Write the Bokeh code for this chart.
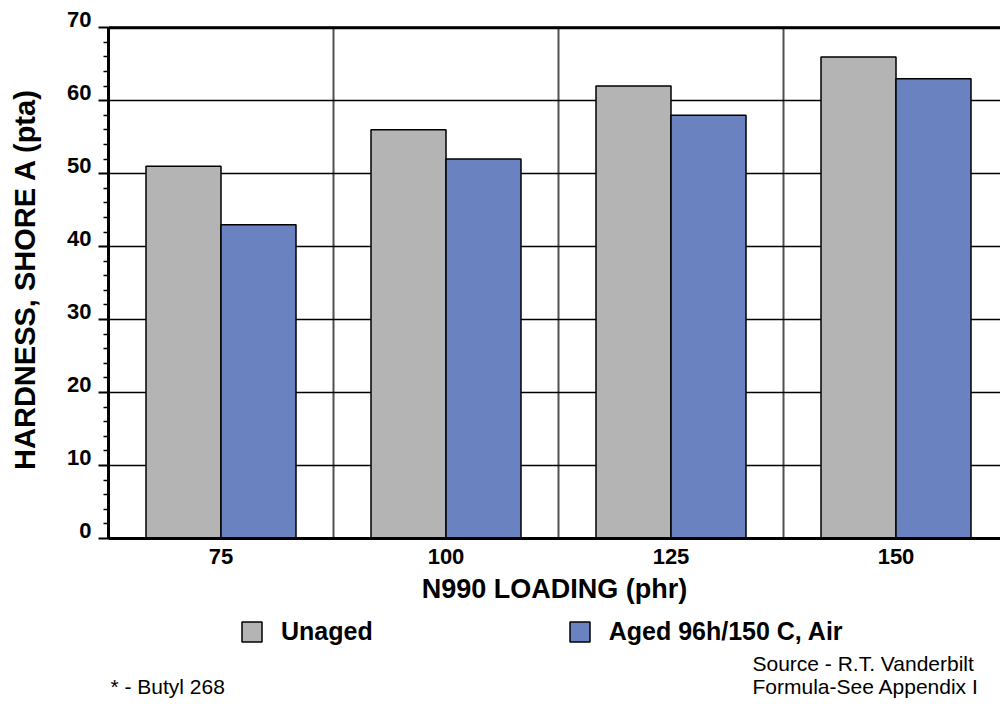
from bokeh.plotting import figure
from bokeh.layouts import column
from bokeh.models import (Range1d, FixedTicker, ColumnDataSource, LinearAxis, Legend,
                          LegendItem, Span)
from bokeh.embed import file_html
from bokeh.resources import INLINE
from bokeh.core.properties import value

# ---- data ----
categories = ["75", "100", "125", "150"]
unaged = [51, 56, 62, 66]
aged = [43, 52, 58, 63]
series_names = ["Unaged", "Aged 96h/150 C, Air"]
y_ticks = [0, 10, 20, 30, 40, 50, 60, 70]
y_tick_labels = ["0", "10", "20", "30", "40", "50", "60", "70"]
x_title = "N990 LOADING (phr)"
y_title = "HARDNESS, SHORE A (pta)"
note_left = "* - Butyl 268"
note_right = ["Source - R.T. Vanderbilt", "Formula-See Appendix I"]

GRAY = "#b4b4b4"
BLUE = "#6a82bf"
FONT = "Liberation Sans"

# ---- geometry (pixels) ----
TOTAL_W = 1000
LEFT = 108
Y_MAX = 70
LABEL_SHIFT = 1.125          # y tick labels sit just above their ticks (data units)
Y_TOP = Y_MAX + LABEL_SHIFT  # visible range reaches the top label
SCALE = 7.3                  # px per hardness unit
FRAME_H = round(Y_TOP * SCALE)
FRAME_BOTTOM = 538
TOP = FRAME_BOTTOM - FRAME_H
MAIN_H = 612
FOOT_H = 88
CAT_PX = 225.0

frame_w = TOTAL_W - LEFT
idx = list(range(len(categories)))
x_unaged = [i + 1.0 / 3 for i in idx]
x_aged = [i + 2.0 / 3 for i in idx]
centers = [i + 0.5 for i in idx]

xr = Range1d(0, frame_w / CAT_PX)
p = figure(width=TOTAL_W, height=MAIN_H, output_backend="svg", toolbar_location=None,
           x_range=xr, y_range=Range1d(0, Y_TOP),
           min_border_left=LEFT, min_border_right=0, min_border_top=TOP,
           min_border_bottom=MAIN_H - TOP - FRAME_H)
p.outline_line_color = None
p.background_fill_color = "white"
p.border_fill_color = "white"

# grids (vertical lines limited to the 0..70 band)
xg = p.xgrid[0]
xg.ticker = FixedTicker(ticks=[1, 2, 3])
xg.grid_line_color = "#505050"
xg.grid_line_width = 2
if "cross_bounds" in xg.properties():
    xg.cross_bounds = (0, Y_MAX)
else:
    xg.visible = False
    p.segment(x0=[1, 2, 3], x1=[1, 2, 3], y0=0, y1=Y_MAX, line_color="#505050",
              line_width=2, level="underlay")
yg = p.ygrid[0]
yg.ticker = FixedTicker(ticks=y_ticks)
yg.grid_line_color = "black"
yg.grid_line_width = 1.3

src_u = ColumnDataSource(dict(x=x_unaged, top=unaged))
src_a = ColumnDataSource(dict(x=x_aged, top=aged))
bar_u = dict(fill_color=GRAY, line_color="black", line_width=1.5)
bar_a = dict(fill_color=BLUE, line_color="black", line_width=1.5)
p.vbar(x="x", top="top", bottom=0, width=1.0 / 3, source=src_u, **bar_u)
p.vbar(x="x", top="top", bottom=0, width=1.0 / 3, source=src_a, **bar_a)

# top border of the plotting area
p.add_layout(Span(location=Y_MAX, dimension="width", line_color="black", line_width=3))

# bottom x axis
xa = p.below[0]
xa.ticker = FixedTicker(ticks=centers)
xa.major_label_overrides = {c: lab for c, lab in zip(centers, categories)}
xa.major_tick_out = 0
xa.major_tick_in = 0
xa.minor_tick_out = 0
xa.minor_tick_in = 0
xa.axis_line_width = 3
xa.axis_line_color = "black"
xa.major_label_text_font = FONT
xa.major_label_text_font_style = "bold"
xa.major_label_text_font_size = "22px"
xa.major_label_text_color = "black"
xa.major_label_standoff = 10
xa.axis_label = x_title
xa.axis_label_text_font = FONT
xa.axis_label_text_font_style = "bold"
xa.axis_label_text_font_size = "27px"
xa.axis_label_text_color = "black"
xa.axis_label_standoff = 7

# y axis: ticks only, line stops at 70
ya = p.left[0]
ya.bounds = (0, Y_MAX)
ya.ticker = FixedTicker(ticks=y_ticks,
                        minor_ticks=[v for v in range(0, Y_MAX + 1, 2) if v % 10])
ya.major_label_overrides = {t: "" for t in y_ticks}
ya.major_label_text_font_size = "0px"
ya.major_label_standoff = 0
ya.axis_line_width = 3
ya.axis_line_color = "black"
ya.major_tick_out = 10
ya.major_tick_in = 0
ya.major_tick_line_width = 2
ya.major_tick_line_color = "black"
ya.minor_tick_out = 5
ya.minor_tick_in = 0
ya.minor_tick_line_width = 1.5
ya.minor_tick_line_color = "black"

# y tick labels (just above each tick) and y title
lab_pos = [t + LABEL_SHIFT for t in y_ticks]
la = LinearAxis(ticker=FixedTicker(ticks=lab_pos),
                major_label_overrides={lp: lab for lp, lab in zip(lab_pos, y_tick_labels)},
                axis_line_color=None, major_tick_out=0, major_tick_in=0,
                minor_tick_out=0, minor_tick_in=0, major_label_standoff=7,
                major_label_text_font=FONT, major_label_text_font_style="bold",
                major_label_text_font_size="22px", major_label_text_color="black",
                axis_label=y_title, axis_label_text_font=FONT,
                axis_label_text_font_style="bold", axis_label_text_font_size="29px",
                axis_label_text_color="black", axis_label_standoff=23)
p.add_layout(la, "left")

# ---- footer strip: legend and notes, same horizontal scale as the chart ----
fb = figure(width=TOTAL_W, height=FOOT_H, output_backend="svg", toolbar_location=None,
            x_range=xr, y_range=Range1d(MAIN_H + FOOT_H, MAIN_H),
            x_axis_location=None, y_axis_location=None,
            min_border_left=LEFT, min_border_right=0, min_border_top=0, min_border_bottom=0)
fb.outline_line_color = None
fb.background_fill_color = "white"
fb.border_fill_color = "white"
for g in fb.grid:
    g.visible = False

# legend entries: the same two bar series (hidden here, only their swatches are shown)
lr_u = fb.vbar(x="x", top="top", bottom=0, width=1.0 / 3, source=src_u, visible=False, **bar_u)
lr_a = fb.vbar(x="x", top="top", bottom=0, width=1.0 / 3, source=src_a, visible=False, **bar_a)
legend = Legend(items=[LegendItem(label=series_names[0], renderers=[lr_u]),
                       LegendItem(label=series_names[1], renderers=[lr_a])],
                orientation="horizontal", location=(239 - LEFT, FOOT_H - (618 - MAIN_H) - 28),
                label_text_font=FONT, label_text_font_style="bold",
                label_text_font_size="25px", label_text_color="black",
                glyph_width=25, glyph_height=25, label_standoff=17, spacing=194,
                padding=0, margin=0, border_line_color=None, background_fill_alpha=0,
                inactive_fill_alpha=0)
fb.add_layout(legend)

px = lambda sx: (sx - LEFT) / CAT_PX
NOTE_FS = 21
mid = lambda base: base - 0.35 * NOTE_FS   # baseline -> text middle
fb.text(x=[px(110)], y=[mid(693)], text=[note_left], text_align="left",
        text_baseline="middle", text_font=value(FONT), text_font_size="21px",
        text_color="black")
fb.text(x=[px(752), px(752)], y=[mid(670), mid(693)], text=note_right, text_align="left",
        text_baseline="middle", text_font=value(FONT), text_font_size="21px",
        text_color="black")

layout = column(p, fb)
open("out.html", "w").write(file_html(layout, INLINE))
